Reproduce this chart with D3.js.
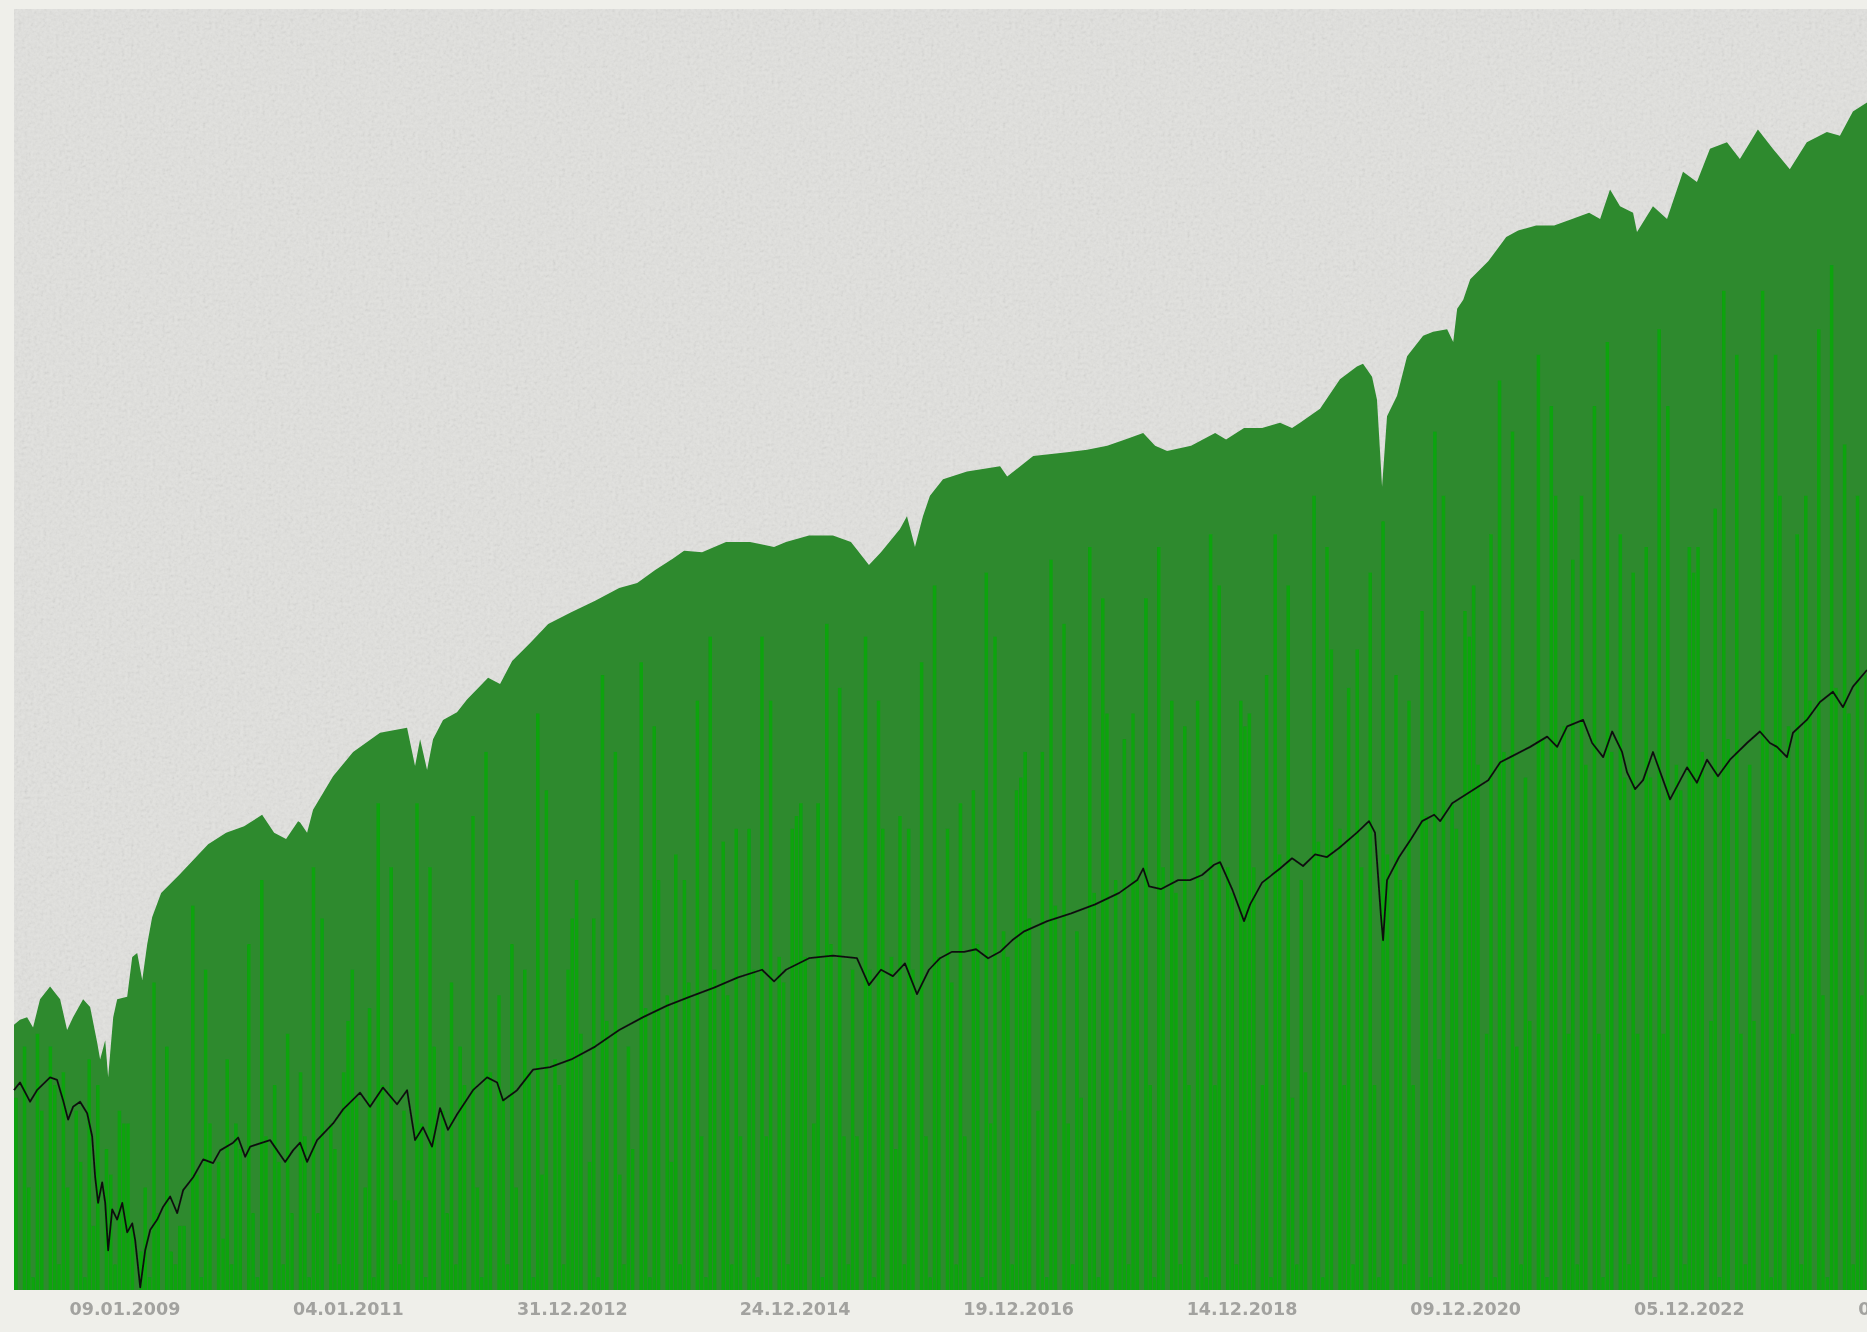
<!DOCTYPE html>
<html>
<head>
<meta charset="utf-8">
<script src="https://cdn.jsdelivr.net/npm/d3@7"></script>
<style>
  html, body { margin: 0; padding: 0; background: #efefea; }
  svg { display: block; }
  .tick text { font-family: "DejaVu Sans", Verdana, sans-serif; font-size: 17.5px; font-weight: bold; fill: #a2a29f; }
</style>
</head>
<body>
<svg id="chart" width="1867" height="1332"></svg>
<script>
// Upper envelope of the dark green area: [decimal year, value 0..100]
const envelope = [
  [2008.042,20.7],[2008.095,21.1],[2008.158,21.3],[2008.211,20.5],[2008.273,22.7],[2008.362,23.7],
  [2008.451,22.7],[2008.513,20.3],[2008.566,21.3],[2008.655,22.7],[2008.717,22.1],[2008.780,19.3],
  [2008.806,18.0],[2008.851,19.5],[2008.877,16.6],[2008.922,21.3],[2008.957,22.7],[2009.046,22.9],
  [2009.091,26.0],[2009.135,26.3],[2009.180,24.2],[2009.224,27.0],[2009.268,29.1],[2009.348,31.0],
  [2009.508,32.4],[2009.659,33.8],[2009.766,34.8],[2009.926,35.7],[2010.086,36.2],[2010.246,37.1],
  [2010.353,35.7],[2010.459,35.2],[2010.566,36.6],[2010.584,36.5],[2010.646,35.7],[2010.699,37.5],
  [2010.877,40.1],[2011.055,42.0],[2011.295,43.5],[2011.535,43.9],[2011.606,40.9],[2011.651,43.0],
  [2011.713,40.6],[2011.766,43.0],[2011.855,44.5],[2011.979,45.1],[2012.068,46.1],[2012.255,47.8],
  [2012.361,47.3],[2012.468,49.1],[2012.628,50.5],[2012.788,52.0],[2012.992,52.9],[2013.205,53.8],
  [2013.419,54.8],[2013.579,55.2],[2013.739,56.2],[2013.898,57.1],[2013.996,57.7],[2014.156,57.6],
  [2014.369,58.4],[2014.582,58.4],[2014.796,58.0],[2014.902,58.4],[2015.107,58.9],[2015.320,58.9],
  [2015.480,58.4],[2015.640,56.6],[2015.747,57.6],[2015.916,59.4],[2015.978,60.4],[2016.049,58.0],
  [2016.120,60.4],[2016.182,62.0],[2016.298,63.3],[2016.511,63.9],[2016.804,64.3],[2016.867,63.5],
  [2017.098,65.1],[2017.400,65.4],[2017.578,65.6],[2017.756,65.9],[2017.916,66.4],[2018.076,66.9],
  [2018.182,65.9],[2018.289,65.5],[2018.502,65.9],[2018.716,66.9],[2018.813,66.4],[2018.973,67.3],
  [2019.133,67.3],[2019.293,67.7],[2019.400,67.3],[2019.471,67.7],[2019.649,68.8],[2019.826,71.1],
  [2019.977,72.1],[2020.031,72.3],[2020.111,71.3],[2020.155,69.5],[2020.200,62.7],[2020.244,68.2],
  [2020.333,69.8],[2020.422,72.9],[2020.564,74.5],[2020.653,74.8],[2020.777,75.0],[2020.831,74.0],
  [2020.866,76.6],[2020.920,77.3],[2020.982,78.9],[2021.142,80.3],[2021.302,82.2],[2021.408,82.7],
  [2021.568,83.1],[2021.728,83.1],[2021.888,83.6],[2022.039,84.1],[2022.137,83.6],[2022.225,85.9],
  [2022.314,84.6],[2022.430,84.1],[2022.465,82.6],[2022.607,84.6],[2022.732,83.6],[2022.874,87.3],
  [2022.998,86.5],[2023.114,89.1],[2023.265,89.6],[2023.380,88.3],[2023.540,90.6],[2023.673,89.1],
  [2023.824,87.5],[2023.975,89.6],[2024.153,90.4],[2024.269,90.1],[2024.384,92.0],[2024.509,92.7]
];

// Black index line: [decimal year, value 0..100]
const indexLine = [
  [2008.042,15.6],[2008.095,16.2],[2008.184,14.7],[2008.246,15.6],[2008.362,16.6],[2008.424,16.4],
  [2008.478,14.8],[2008.522,13.3],[2008.566,14.3],[2008.628,14.7],[2008.691,13.8],[2008.735,12.0],
  [2008.762,8.8],[2008.788,6.8],[2008.824,8.4],[2008.851,6.8],[2008.877,3.1],[2008.913,6.3],
  [2008.957,5.5],[2009.002,6.8],[2009.046,4.5],[2009.091,5.2],[2009.117,3.9],[2009.162,0.2],
  [2009.206,3.1],[2009.251,4.7],[2009.313,5.5],[2009.366,6.5],[2009.428,7.3],[2009.491,6.0],
  [2009.544,7.8],[2009.633,8.8],[2009.722,10.2],[2009.810,9.9],[2009.873,10.9],[2009.988,11.5],
  [2010.033,11.9],[2010.095,10.4],[2010.140,11.2],[2010.317,11.7],[2010.451,10.0],[2010.521,10.9],
  [2010.584,11.5],[2010.646,10.0],[2010.735,11.7],[2010.877,13.0],[2010.966,14.1],[2011.117,15.4],
  [2011.206,14.3],[2011.321,15.8],[2011.446,14.5],[2011.535,15.6],[2011.606,11.7],[2011.677,12.7],
  [2011.757,11.2],[2011.828,14.2],[2011.899,12.5],[2011.979,13.7],[2012.121,15.6],[2012.246,16.6],
  [2012.335,16.2],[2012.388,14.8],[2012.512,15.6],[2012.654,17.2],[2012.805,17.4],[2012.992,18.0],
  [2013.205,19.0],[2013.419,20.3],[2013.632,21.3],[2013.845,22.2],[2014.050,22.9],[2014.263,23.6],
  [2014.476,24.4],[2014.689,25.0],[2014.796,24.1],[2014.902,25.0],[2015.107,25.9],[2015.320,26.1],
  [2015.533,25.9],[2015.640,23.8],[2015.747,25.0],[2015.853,24.5],[2015.960,25.5],[2016.067,23.1],
  [2016.173,25.0],[2016.271,25.9],[2016.378,26.4],[2016.485,26.4],[2016.591,26.6],[2016.698,25.9],
  [2016.804,26.4],[2016.911,27.3],[2017.018,28.0],[2017.223,28.8],[2017.436,29.4],[2017.649,30.1],
  [2017.863,31.0],[2018.023,32.0],[2018.076,32.9],[2018.129,31.5],[2018.236,31.3],[2018.387,32.0],
  [2018.493,32.0],[2018.600,32.4],[2018.707,33.2],[2018.760,33.4],[2018.867,31.3],[2018.973,28.8],
  [2019.027,30.1],[2019.133,31.8],[2019.293,32.9],[2019.400,33.7],[2019.498,33.1],[2019.605,34.0],
  [2019.711,33.8],[2019.818,34.5],[2019.977,35.7],[2020.084,36.6],[2020.137,35.7],[2020.191,29.1],
  [2020.209,27.3],[2020.244,32.0],[2020.351,33.8],[2020.457,35.2],[2020.555,36.6],[2020.662,37.1],
  [2020.715,36.6],[2020.822,38.0],[2020.982,38.9],[2021.142,39.8],[2021.249,41.2],[2021.338,41.6],
  [2021.515,42.4],[2021.666,43.2],[2021.755,42.4],[2021.844,44.0],[2021.986,44.5],[2022.066,42.7],
  [2022.164,41.6],[2022.244,43.6],[2022.332,42.0],[2022.377,40.4],[2022.448,39.1],[2022.519,39.8],
  [2022.607,42.0],[2022.759,38.3],[2022.910,40.8],[2022.998,39.6],[2023.088,41.4],[2023.185,40.1],
  [2023.292,41.4],[2023.443,42.7],[2023.558,43.6],[2023.647,42.7],[2023.710,42.4],[2023.799,41.6],
  [2023.852,43.5],[2023.975,44.5],[2024.092,45.9],[2024.207,46.7],[2024.296,45.5],[2024.384,47.1],
  [2024.509,48.4]
];

// Bright green bars, one every 14 days from the start of the range (value 0..100)
const barHeights = [
  15,0,19,8,1,20,14,0,19,16,2,17,8,
  0,14,10,1,18,5,16,0,11,9,2,14,13,
  13,5,0,3,8,1,24,6,0,19,3,2,5,
  5,0,30,9,1,25,13,0,10,4,18,2,13,
  11,0,27,6,1,32,12,0,16,10,2,20,6,
  0,17,12,1,33,6,29,0,13,11,2,17,21,
  25,15,0,8,22,1,38,16,0,33,7,2,14,
  7,0,38,13,1,33,19,0,14,6,24,2,19,
  16,0,37,8,1,42,17,0,23,15,2,27,8,
  0,25,17,1,45,9,39,0,18,16,2,25,29,
  32,20,0,10,29,1,48,21,0,42,9,2,19,
  11,0,49,22,1,44,32,0,23,10,34,2,32,
  24,0,46,12,1,51,25,0,35,23,2,36,12,
  0,36,25,1,51,12,46,0,26,24,2,36,37,
  38,26,0,13,38,1,52,27,0,47,12,2,25,
  12,0,51,25,1,46,36,0,26,11,37,2,36,
  25,0,49,12,1,55,26,0,36,24,2,38,12,
  0,39,27,1,56,13,51,0,28,26,2,39,40,
  42,29,0,14,42,1,57,30,0,52,13,2,28,
  15,0,58,31,1,54,45,0,32,14,43,2,45,
  32,0,54,16,1,58,33,0,46,31,2,44,16,
  0,46,32,1,59,16,55,0,33,31,2,46,44,
  45,33,0,16,48,1,59,34,0,55,15,2,32,
  17,0,62,35,1,58,50,0,36,16,47,2,50,
  33,0,56,16,1,60,34,0,48,32,2,46,16,
  0,53,37,1,67,18,62,0,38,36,2,53,51,
  55,41,0,20,59,1,71,42,0,67,19,2,40,
  21,0,73,43,1,69,62,0,44,20,57,2,62,
  41,0,69,20,1,74,42,0,59,40,2,56,20,
  0,58,40,1,75,20,69,0,41,39,2,58,56,
  58,42,0,21,61,1,78,43,0,73,20,2,41,
  21,0,78,43,1,73,62,0,44,20,59,2,62,
  46,0,75,23,1,80,47,0,66,45,2,62,23,48
];

const tickDates = ["2009-01-09","2011-01-04","2012-12-31","2014-12-24","2016-12-19",
                   "2018-12-14","2020-12-09","2022-12-05","2024-12-02"];

const plot = { left: 14, top: 9, right: 1867, bottom: 1290 };

function fromYear(v) {
  const y = Math.floor(v);
  const start = new Date(y, 0, 1), end = new Date(y + 1, 0, 1);
  return new Date(+start + (v - y) * (end - start));
}
const parseDay = d3.timeParse("%Y-%m-%d");

const x = d3.scaleTime()
  .domain([fromYear(2008.042), fromYear(2024.509)])
  .range([plot.left, plot.right]);
const y = d3.scaleLinear().domain([0, 100]).range([plot.bottom, plot.top]);

const svg = d3.select('#chart');
const defs = svg.append('defs');

// paper-like grain for the background
const noise = defs.append('filter').attr('id', 'noise')
  .attr('x', 0).attr('y', 0).attr('width', '100%').attr('height', '100%');
noise.append('feTurbulence').attr('type', 'fractalNoise')
  .attr('baseFrequency', 0.32).attr('numOctaves', 2).attr('seed', 7);
noise.append('feColorMatrix').attr('type', 'saturate').attr('values', 0);

const soften = defs.append('filter').attr('id', 'soften');
soften.append('feGaussianBlur').attr('stdDeviation', 0.6);
const softText = defs.append('filter').attr('id', 'softText');
softText.append('feGaussianBlur').attr('stdDeviation', 0.5);

const area = d3.area()
  .x(d => x(fromYear(d[0])))
  .y0(plot.bottom)
  .y1(d => y(d[1]));

defs.append('clipPath').attr('id', 'envClip')
  .append('path').attr('d', area(envelope));

// plot background
svg.append('rect')
  .attr('x', plot.left).attr('y', plot.top)
  .attr('width', plot.right - plot.left).attr('height', plot.bottom - plot.top)
  .attr('fill', '#e2e2df');
svg.append('rect')
  .attr('x', plot.left).attr('y', plot.top)
  .attr('width', plot.right - plot.left).attr('height', plot.bottom - plot.top)
  .attr('filter', 'url(#noise)')
  .attr('opacity', 0.22);

const g = svg.append('g').attr('filter', 'url(#soften)');

// dark green envelope
g.append('path')
  .attr('d', area(envelope))
  .attr('fill', '#2d8a2e');

// bright green bars (a thin dark seam is left between neighbours)
const barDates = d3.timeDay.range(x.domain()[0], x.domain()[1], 14);
const n = Math.min(barDates.length, barHeights.length);
const bars = d3.range(n).map(i => ({
  date: barDates[i],
  next: i + 1 < barDates.length ? barDates[i + 1] : x.domain()[1],
  value: barHeights[i]
}));

g.append('g')
  .attr('clip-path', 'url(#envClip)')
  .selectAll('rect')
  .data(bars)
  .join('rect')
  .attr('x', d => x(d.date))
  .attr('width', d => Math.max(1, x(d.next) - x(d.date) - 0.9))
  .attr('y', d => y(d.value))
  .attr('height', d => plot.bottom - y(d.value))
  .attr('fill', '#0ca40d');

// black index line
const line = d3.line()
  .x(d => x(fromYear(d[0])))
  .y(d => y(d[1]));

g.append('path')
  .attr('d', line(indexLine))
  .attr('fill', 'none')
  .attr('stroke', '#111')
  .attr('stroke-width', 1.8)
  .attr('stroke-linejoin', 'round');

// x axis labels
const axis = d3.axisBottom(x)
  .tickValues(tickDates.map(parseDay))
  .tickFormat(d3.timeFormat('%d.%m.%Y'))
  .tickSize(0)
  .tickPadding(13);

svg.append('g')
  .attr('transform', `translate(0,${plot.bottom})`)
  .attr('filter', 'url(#softText)')
  .call(axis)
  .call(a => a.select('.domain').remove());
</script>
</body>
</html>
